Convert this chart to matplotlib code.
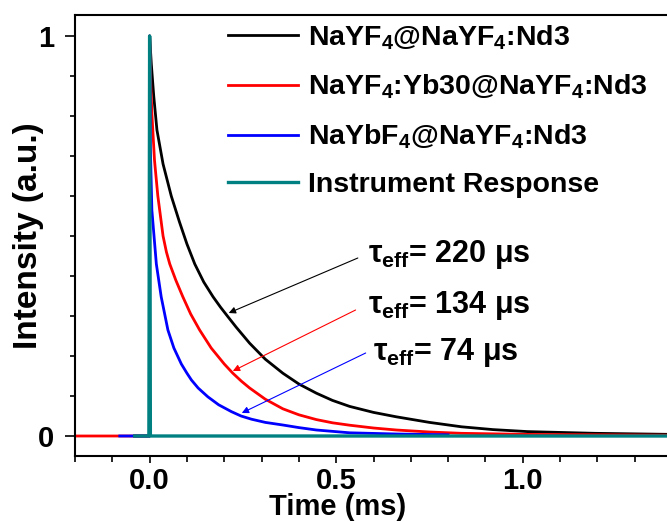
import numpy as np
import matplotlib
matplotlib.use('Agg')
import matplotlib.pyplot as plt
from matplotlib.ticker import MultipleLocator

plt.rcParams['font.family'] = ['Liberation Sans', 'DejaVu Sans']
plt.rcParams['font.weight'] = 'bold'
plt.rcParams['mathtext.fontset'] = 'custom'
plt.rcParams['mathtext.rm'] = 'Liberation Sans:bold'
plt.rcParams['mathtext.it'] = 'Liberation Sans:bold'
plt.rcParams['mathtext.bf'] = 'Liberation Sans:bold'

# decay curves (time in ms, normalised intensity)
t_black = [-0.04, 0.0, 0.0, 0.0045, 0.011, 0.0196, 0.036, 0.058, 0.08, 0.1, 0.121, 0.145,
           0.17, 0.19, 0.21, 0.232, 0.268, 0.31, 0.357, 0.40, 0.447, 0.49, 0.536, 0.6,
           0.661, 0.75, 0.836, 0.92, 1.013, 1.193, 1.4]
i_black = [0.0, 0.0, 1.0, 0.93, 0.85, 0.765, 0.68, 0.60, 0.535, 0.48, 0.43, 0.385,
           0.348, 0.322, 0.298, 0.272, 0.232, 0.192, 0.157, 0.13, 0.107, 0.089, 0.074, 0.059,
           0.048, 0.034, 0.023, 0.016, 0.011, 0.0067, 0.004]

t_red = [-0.2, 0.0, 0.0, 0.003, 0.006, 0.013, 0.022, 0.036, 0.045, 0.054, 0.07, 0.089,
         0.11, 0.134, 0.165, 0.20, 0.223, 0.246, 0.268, 0.31, 0.357, 0.40, 0.447, 0.49,
         0.536, 0.6, 0.661, 0.75, 0.836, 1.013, 1.2, 1.4]
i_red = [0.0, 0.0, 1.0, 0.88, 0.807, 0.69, 0.60, 0.50, 0.46, 0.43, 0.39, 0.348,
         0.305, 0.265, 0.22, 0.18, 0.157, 0.137, 0.12, 0.092, 0.068, 0.053, 0.041, 0.033,
         0.027, 0.02, 0.015, 0.01, 0.0067, 0.004, 0.003, 0.002]

t_blue = [-0.08, 0.0, 0.0, 0.002, 0.006, 0.018, 0.031, 0.049, 0.065, 0.085, 0.1, 0.112,
          0.13, 0.156, 0.185, 0.219, 0.245, 0.273, 0.31, 0.357, 0.4, 0.447, 0.536, 0.661, 0.8]
i_blue = [0.0, 0.0, 1.0, 0.72, 0.565, 0.43, 0.348, 0.265, 0.22, 0.18, 0.157, 0.14,
          0.12, 0.098, 0.078, 0.061, 0.05, 0.042, 0.034, 0.0275, 0.021, 0.015, 0.008, 0.005, 0.003]

t_irf = [-0.04, -0.002, 0.0, 0.002, 1.4]
i_irf = [0.0, 0.0, 1.0, 0.0, 0.0]

labels = ['NaYF$_4$@NaYF$_4$:Nd3', 'NaYF$_4$:Yb30@NaYF$_4$:Nd3',
          'NaYbF$_4$@NaYF$_4$:Nd3', 'Instrument Response']
colors = ['black', 'red', 'blue', '#008080']

tau_text = ['220', '134', '74']
# arrow tail / head and label anchor (data coords)
arrow_tail = [(0.558, 0.445), (0.552, 0.315), (0.579, 0.2075)]
arrow_head = [(0.212, 0.3075), (0.223, 0.1625), (0.247, 0.0575)]
text_pos = [(0.584, 0.435), (0.584, 0.308), (0.598, 0.19)]

fig = plt.figure(figsize=(6.67, 5.22), dpi=100)
ax = fig.add_axes([75/667, 66/522, 597/667, 441/522])

ax.plot(t_black, i_black, color=colors[0], lw=2.0, label=labels[0])
ax.plot(t_red, i_red, color=colors[1], lw=2.0, label=labels[1])
ax.plot(t_blue, i_blue, color=colors[2], lw=2.0, label=labels[2])
ax.plot(t_irf, i_irf, color=colors[3], lw=2.4, label=labels[3])

for k in range(3):
    ax.annotate('', xy=arrow_head[k], xytext=arrow_tail[k],
                arrowprops=dict(arrowstyle='-|>', color=colors[k], lw=0.8,
                                mutation_scale=10, shrinkA=0, shrinkB=0))
    ax.text(text_pos[k][0], text_pos[k][1], r'$\tau_{\rm eff}$= ' + tau_text[k] + ' μs',
            fontsize=22, fontweight='bold', va='baseline', ha='left')

ax.set_xlim(-0.2, 1.40)
ax.set_ylim(-0.05, 1.0525)
ax.xaxis.set_minor_locator(MultipleLocator(0.1))
ax.yaxis.set_minor_locator(MultipleLocator(0.1))
ax.set_xticks([0, 0.5, 1.0])
ax.set_xticklabels(['0.0', '0.5', '1.0'])
ax.set_yticks([0, 1])
ax.set_yticklabels(['0', '1'])

ax.tick_params(axis='x', which='major', direction='out', length=5, width=1.2, labelsize=21, pad=3)
ax.tick_params(axis='x', which='minor', direction='out', length=4, width=1.2)
ax.tick_params(axis='y', which='major', direction='out', length=7, width=1.2, labelsize=21, pad=8)
ax.tick_params(axis='y', which='minor', direction='out', length=3.5, width=1.2)
for s in ax.spines.values():
    s.set_linewidth(1.5)

ax.set_xlabel('Time (ms)', fontsize=21, fontweight='bold')
ax.set_ylabel('Intensity (a.u.)', fontsize=24, fontweight='bold')
ax.xaxis.set_label_coords(0.44, -0.083)
ax.yaxis.set_label_coords(-0.052, 0.5)

ax.legend(loc='upper left', bbox_to_anchor=(0.256, 0.981), frameon=False, fontsize=20.5,
          handlelength=2.46, handletextpad=0.35, labelspacing=0.74, borderpad=0, borderaxespad=0)

fig.savefig('out.png', dpi=100)
